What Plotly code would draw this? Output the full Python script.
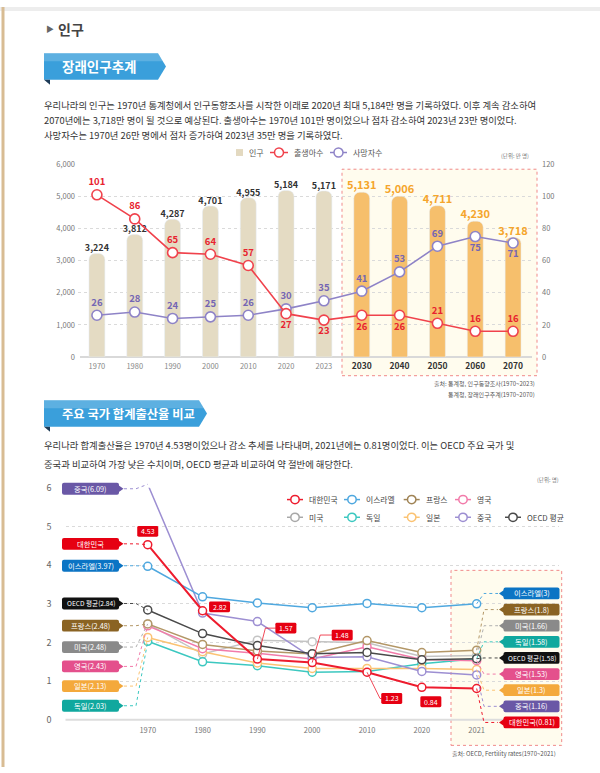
import plotly.graph_objects as go

W, H = 600, 773
FONT = "Noto Sans CJK KR"

# ---------------- data: chart 1 ----------------
years1 = ["1970", "1980", "1990", "2000", "2010", "2020", "2023",
          "2030", "2040", "2050", "2060", "2070"]
population = [3224, 3812, 4287, 4701, 4955, 5184, 5171, 5131, 5006, 4711, 4230, 3718]
births = [101, 86, 65, 64, 57, 27, 23, 26, 26, 21, 16, 16]
deaths = [26, 28, 24, 25, 26, 30, 35, 41, 53, 69, 75, 71]
births_label_side = ["top", "top", "top", "top", "top", "bottom", "bottom",
                     "bottom", "bottom", "top", "top", "top"]
deaths_label_side = ["top"] * 10 + ["bottom", "bottom"]
projected_years = ["2030", "2040", "2050", "2060", "2070"]
pop_ticks = [0, 1000, 2000, 3000, 4000, 5000, 6000]
rate_ticks = [0, 20, 40, 60, 80, 100, 120]

# ---------------- data: chart 2 ----------------
years2 = ["1970", "1980", "1990", "2000", "2010", "2020", "2021"]
korea = [4.53, 2.82, 1.57, 1.48, 1.23, 0.84, 0.81]
israel = [3.97, 3.18, 3.02, 2.90, 3.01, 2.90, 3.00]
france = [2.48, 1.95, 1.78, 1.70, 2.05, 1.74, 1.80]
usa = [2.48, 1.70, 2.06, 2.02, 1.99, 1.64, 1.66]
uk = [2.43, 1.84, 1.72, 1.57, 1.89, 1.56, 1.53]
germany = [2.03, 1.50, 1.40, 1.23, 1.25, 1.45, 1.58]
japan = [2.13, 1.76, 1.47, 1.33, 1.33, 1.33, 1.30]
china = [6.09, 2.76, 2.54, 1.61, 1.63, 1.25, 1.16]
oecd = [2.84, 2.23, 1.92, 1.71, 1.74, 1.55, 1.58]
tfr_ticks = [0, 1, 2, 3, 4, 5, 6]

# name, values, line colour, tag colour
SERIES = {
    "대한민국": (korea, "#EE1C2E", "#E60012"),
    "이스라엘": (israel, "#4FA8DF", "#0B74C4"),
    "프랑스": (france, "#B39767", "#8A6323"),
    "영국": (uk, "#F27BAA", "#E4508C"),
    "미국": (usa, "#C4C4C4", "#8A8A8A"),
    "독일": (germany, "#3CC8C0", "#10A89E"),
    "일본": (japan, "#FBC373", "#F4A93C"),
    "중국": (china, "#9D8FD2", "#6A58A6"),
    "OECD 평균": (oecd, "#4A4A4A", "#111111"),
}
draw_order = ["미국", "독일", "일본", "영국", "프랑스", "중국", "이스라엘", "OECD 평균", "대한민국"]

# ---------------- geometry helpers (pixels -> paper) ----------------
def fx(x):
    return x / W

def fy(y):
    return 1 - y / H

def P(x, y):
    return f"{fx(x):.5f},{fy(y):.5f}"

C1_L, C1_R, C1_T, C1_B = 78, 532, 160, 356
C2_L, C2_R, C2_T, C2_B = 65.5, 558.9, 489, 725
X2_RANGE = (-1.5, 7.5)
Y2_MAX = 6

def c2x(i):
    return C2_L + (i - X2_RANGE[0]) / (X2_RANGE[1] - X2_RANGE[0]) * (C2_R - C2_L)

def c2y(v):
    return C2_B - v / Y2_MAX * (C2_B - C2_T)

shapes, annos = [], []

def poly(pts, fill, lc=None, lw=0, layer="above", dash=None, closed=True):
    d = "M " + " L ".join(P(x, y) for x, y in pts) + (" Z" if closed else "")
    ln = dict(color=lc or fill, width=lw)
    if dash:
        ln["dash"] = dash
    shapes.append(dict(type="path", xref="paper", yref="paper", path=d,
                       fillcolor=fill, line=ln, layer=layer))

def rrect(x0, y0, x1, y1, r, fill, layer="above"):
    d = (f"M {P(x0+r,y0)} L {P(x1-r,y0)} Q {P(x1,y0)} {P(x1,y0+r)} L {P(x1,y1-r)} "
         f"Q {P(x1,y1)} {P(x1-r,y1)} L {P(x0+r,y1)} Q {P(x0,y1)} {P(x0,y1-r)} "
         f"L {P(x0,y0+r)} Q {P(x0,y0)} {P(x0+r,y0)} Z")
    shapes.append(dict(type="path", xref="paper", yref="paper", path=d,
                       fillcolor=fill, line=dict(width=0), layer=layer))

def circle(cx, cy, r, color, lw=1.5):
    shapes.append(dict(type="circle", xref="paper", yref="paper",
                       x0=fx(cx - r), x1=fx(cx + r), y0=fy(cy + r), y1=fy(cy - r),
                       fillcolor="white", line=dict(color=color, width=lw)))

def hline(x0, x1, y, color, lw=1.5, dash=None, layer="above"):
    ln = dict(color=color, width=lw)
    if dash:
        ln["dash"] = dash
    shapes.append(dict(type="line", xref="paper", yref="paper",
                       x0=fx(x0), x1=fx(x1), y0=fy(y), y1=fy(y), line=ln, layer=layer))

def txt(x, y, s, size, color, anchor="left"):
    annos.append(dict(xref="paper", yref="paper", x=fx(x), y=fy(y), text=s,
                      showarrow=False, xanchor=anchor, yanchor="middle",
                      font=dict(family=FONT, size=size, color=color)))

# ---------------- page decoration ----------------
shapes.append(dict(type="rect", xref="paper", yref="paper", x0=0, x1=1,
                   y0=fy(4), y1=1, fillcolor="#EDEDED", line=dict(width=0)))
shapes.append(dict(type="line", xref="paper", yref="paper", x0=fx(3), x1=fx(3),
                   y0=0, y1=1, line=dict(color="#D8BC93", width=3)))

txt(44, 22, "▶", 8, "#666666")
txt(56, 22, "<b>인구</b>", 14, "#444444")

def banner(x0, y0, x1, y1, label, size):
    mid = (y0 + y1) / 2
    poly([(x0, y0), (x1, y0), (x1 + 8, mid), (x1, y1), (x0, y1)], "#3A9FDB")
    poly([(x0, y0), (x1, y0), (x1 + 5, y0 + (y1 - y0) * 0.3), (x0, y0 + (y1 - y0) * 0.3)],
         "rgba(255,255,255,0.18)")
    poly([(x0, y1), (x0 + 6, y1), (x0 + 6, y1 + 5)], "#1D3B57")
    txt(x0 + 16, mid, f"<b>{label}</b>", size, "white")

banner(44, 47, 158, 74, "장래인구추계", 13.5)

para1 = [
    "우리나라의 인구는 1970년 통계청에서 인구동향조사를 시작한 이래로 2020년 최대 5,184만 명을 기록하였다. 이후 계속 감소하여",
    "2070년에는 3,718만 명이 될 것으로 예상된다. 출생아수는 1970년 101만 명이었으나 점차 감소하여 2023년 23만 명이었다.",
    "사망자수는 1970년 26만 명에서 점차 증가하여 2023년 35만 명을 기록하였다.",
]
for i, line in enumerate(para1):
    txt(42, 100 + i * 15, line, 9.35, "#333333")

# ---------------- chart 1 decoration ----------------
shapes.append(dict(type="rect", xref="paper", yref="paper",
                   x0=fx(342), x1=fx(537), y0=fy(375), y1=fy(165),
                   fillcolor="#FFFCEE", line=dict(color="#F08A8A", width=1, dash="dot"),
                   layer="below"))
hline(C1_L + 2, C1_R, C1_B, "#D9D9D9", lw=2, layer="below")

# legend chart 1
shapes.append(dict(type="rect", xref="paper", yref="paper",
                   x0=fx(236), x1=fx(243), y0=fy(151.5), y1=fy(144.5),
                   fillcolor="#E3D9C0", line=dict(width=0)))
txt(247, 148, "인구", 8, "#555555")
hline(270, 288, 148, "#F0424C", 1.5)
circle(279, 148, 4.5, "#F0424C")
txt(292, 148, "출생아수", 8, "#555555")
hline(330, 347, 148, "#8E83C7", 1.5)
circle(338.5, 148, 4.5, "#8E83C7")
txt(351, 148, "사망자수", 8, "#555555")
txt(515, 152, "(단위: 만 명)", 5.5, "#777777", "center")

txt(537, 383, "출처: 통계청, 인구동향조사(1970~2023)", 6, "#555555", "right")
txt(537, 394, "통계청, 장래인구추계(1970~2070)", 6, "#555555", "right")

# ---------------- section 2 text ----------------
banner(44, 400, 199, 427, "주요 국가 합계출산율 비교", 12.3)
para2 = [
    "우리나라 합계출산율은 1970년 4.53명이었으나 감소 추세를 나타내며, 2021년에는 0.81명이었다. 이는 OECD 주요 국가 및",
    "중국과 비교하여 가장 낮은 수치이며, OECD 평균과 비교하여 약 절반에 해당한다.",
]
for i, line in enumerate(para2):
    txt(42, 446 + i * 19, line, 9.35, "#333333")
txt(548, 481, "(단위: 명)", 5.5, "#777777", "center")

# chart 2 highlight + baseline
shapes.append(dict(type="rect", xref="paper", yref="paper",
                   x0=fx(451), x1=fx(561.7), y0=fy(751), y1=fy(573),
                   fillcolor="#FFFCEE", line=dict(color="#F08A8A", width=1, dash="dot"),
                   layer="below"))
hline(C2_L, C2_R, C2_B, "#DDDDDD", lw=2, layer="below")

# legend chart 2
leg_cols = [295, 352, 411.7, 463, 513]
leg_rows = [["대한민국", "이스라엘", "프랑스", "영국"],
            ["미국", "독일", "일본", "중국", "OECD 평균"]]
for r, row in enumerate(leg_rows):
    yy = 501 + r * 18
    for c, name in enumerate(row):
        cx = leg_cols[c]
        col = SERIES[name][1] if name != "미국" else "#A8A8A8"
        if name == "프랑스":
            col = "#A08456"
        hline(cx - 8, cx + 8, yy, col, 1.5)
        circle(cx, yy, 4.2, col)
        txt(cx + 12, yy, name, 7.8, "#444444")

# tags
def tag(xc, yc, w, label, color, side, size=7.3):
    h = 12
    x0, x1 = xc - w / 2, xc + w / 2
    rrect(x0, yc - h / 2, x1, yc + h / 2, 2, color)
    if side == "right":
        poly([(x1 - 0.5, yc - 3.5), (x1 + 4.5, yc), (x1 - 0.5, yc + 3.5)], color)
    else:
        poly([(x0 + 0.5, yc - 3.5), (x0 - 4.5, yc), (x0 + 0.5, yc + 3.5)], color)
    txt(xc, yc, label, size, "white", "center")

left_tag_y = {"중국": 490, "대한민국": 546, "이스라엘": 568.3, "OECD 평균": 606.7,
              "프랑스": 629.3, "미국": 651, "영국": 670.7, "일본": 690.7, "독일": 710.7}
right_tag_y = {"이스라엘": 596.5, "프랑스": 612.9, "미국": 629.3, "독일": 645.7,
               "OECD 평균": 662.1, "영국": 678.5, "일본": 694.9, "중국": 711.3, "대한민국": 727.7}

last = len(years2) - 1
for name, (vals, lcol, tcol) in SERIES.items():
    # left
    yt = left_tag_y[name]
    lab = name if name == "대한민국" else f"{name}({vals[0]:g})"
    tag(90.5, yt, 57, lab, tcol, "right", 6.6 if name == "OECD 평균" else 7.3)
    poly([(124, yt), (136, yt), (c2x(0), c2y(vals[0]))], "rgba(0,0,0,0)",
         lc=lcol if name != "미국" else "#B0B0B0", lw=1, dash="dot", closed=False)
    # right
    yt = right_tag_y[name]
    tag(531.5, yt, 56, f"{name}({vals[last]:g})", tcol, "left",
        6.6 if name == "OECD 평균" else 7.3)
    poly([(c2x(last), c2y(vals[last])), (484, yt), (498, yt)], "rgba(0,0,0,0)",
         lc=lcol if name != "미국" else "#B0B0B0", lw=1, dash="dot", closed=False)

# Korea value labels (offsets from the data point, leader elbow offsets)
korea_label_offsets = [(0, -13.5, None), (17, -4, None), (28.5, -31.5, (8, -31.5)),
                       (30, -28, (8, -28)), (24.7, 26.7, (13, 26.7)), (9, 14.7, None)]
for i, (dx, dy, elbow) in enumerate(korea_label_offsets):
    x0, y0 = c2x(i), c2y(korea[i])
    cx, cy = x0 + dx, y0 + dy
    if elbow:
        ex, ey = x0 + elbow[0], y0 + elbow[1]
        poly([(x0, y0), (ex, ey), (cx - 10, cy)], "rgba(0,0,0,0)",
             lc="#EE1C2E", lw=0.8, closed=False)
    rrect(cx - 10.5, cy - 5.5, cx + 10.5, cy + 5.5, 1.5, "#E60012")
    txt(cx, cy, f"{korea[i]:.2f}", 7, "white", "center")

txt(558, 759, "출처: OECD, Fertility rates(1970~2021)", 6, "#555555", "right")

# ---------------- traces ----------------
fig = go.Figure()

bar_colors = ["#F6BF6C" if y in projected_years else "#E4DBC3" for y in years1]
fig.add_trace(go.Bar(x=years1, y=population, marker=dict(color=bar_colors, cornerradius=6),
                     width=0.42, xaxis="x", yaxis="y", hoverinfo="skip"))
fig.add_trace(go.Scatter(
    x=years1, y=population, mode="text",
    text=[f"<b>{v:,}</b>" for v in population], textposition="top center",
    textfont=dict(family=FONT,
                  size=[11 if y in projected_years else 9 for y in years1],
                  color=["#F5A52B" if y in projected_years else "#333333" for y in years1]),
    xaxis="x", yaxis="y", cliponaxis=False, hoverinfo="skip"))

for vals, sides, col, tcol in [(deaths, deaths_label_side, "#8E83C7", "#7466B4"),
                               (births, births_label_side, "#F0424C", "#E8232F")]:
    fig.add_trace(go.Scatter(
        x=years1, y=vals, mode="lines+markers+text", xaxis="x", yaxis="y2",
        line=dict(color=col, width=1.6),
        marker=dict(size=10, color="white", line=dict(color=col, width=1.6)),
        text=[f"<b>{v}</b>" for v in vals],
        textposition=[f"{s} center" for s in sides],
        textfont=dict(family=FONT, size=9.5, color=tcol),
        cliponaxis=False, hoverinfo="skip"))

for name in draw_order:
    vals, lcol, _ = SERIES[name]
    fig.add_trace(go.Scatter(
        x=years2, y=vals, mode="lines+markers", xaxis="x3", yaxis="y3",
        line=dict(color=lcol, width=2 if name == "대한민국" else 1.5),
        marker=dict(size=8, color="white", line=dict(color=lcol, width=1.5)),
        cliponaxis=False, hoverinfo="skip", name=name))

proj_tick = lambda y: f"<b><span style='font-size:8.5px;color:#333333'>{y}</span></b>"
fig.update_layout(
    width=W, height=H, autosize=False,
    margin=dict(l=0, r=0, t=0, b=0),
    paper_bgcolor="white", plot_bgcolor="rgba(0,0,0,0)",
    showlegend=False,
    font=dict(family=FONT),
    xaxis=dict(domain=[fx(C1_L), fx(C1_R)], anchor="y", type="category",
               categoryorder="array", categoryarray=years1, range=[-0.5, 11.5],
               tickvals=years1,
               ticktext=[proj_tick(y) if y in projected_years else y for y in years1],
               tickfont=dict(size=7.5, color="#888888"), showgrid=False,
               zeroline=False, showline=False, ticks="", ticklabelstandoff=3),
    yaxis=dict(domain=[fy(C1_B), fy(C1_T)], anchor="x", range=[0, 6000],
               tickvals=pop_ticks, tickformat=",", tickfont=dict(size=7.5, color="#777777"),
               showgrid=True, gridcolor="#DADADA", griddash="dot", gridwidth=1,
               zeroline=False, showline=False, ticks="", ticklabelstandoff=2),
    yaxis2=dict(overlaying="y", side="right", anchor="x", range=[0, 120],
                tickvals=rate_ticks, tickfont=dict(size=7.5, color="#777777"),
                showgrid=False, zeroline=False, showline=False, ticks="",
                ticklabelstandoff=9),
    xaxis3=dict(domain=[fx(C2_L), fx(C2_R)], anchor="y3", type="category",
                categoryorder="array", categoryarray=years2, range=list(X2_RANGE),
                tickfont=dict(size=7.5, color="#777777"), showgrid=False,
                zeroline=False, showline=False, ticks="", ticklabelstandoff=5),
    yaxis3=dict(domain=[fy(C2_B), fy(C2_T)], anchor="x3", range=[0, Y2_MAX],
                tickvals=tfr_ticks, tickfont=dict(size=9, color="#666666"),
                showgrid=True, gridcolor="#DADADA", griddash="dot", gridwidth=1,
                zeroline=False, showline=False, ticks="", ticklabelstandoff=13),
    shapes=shapes, annotations=annos,
)

fig.write_html("out.html", config={"displayModeBar": False},
               post_script="document.body.style.margin='0';"
                           "document.documentElement.style.overflow='hidden';")
